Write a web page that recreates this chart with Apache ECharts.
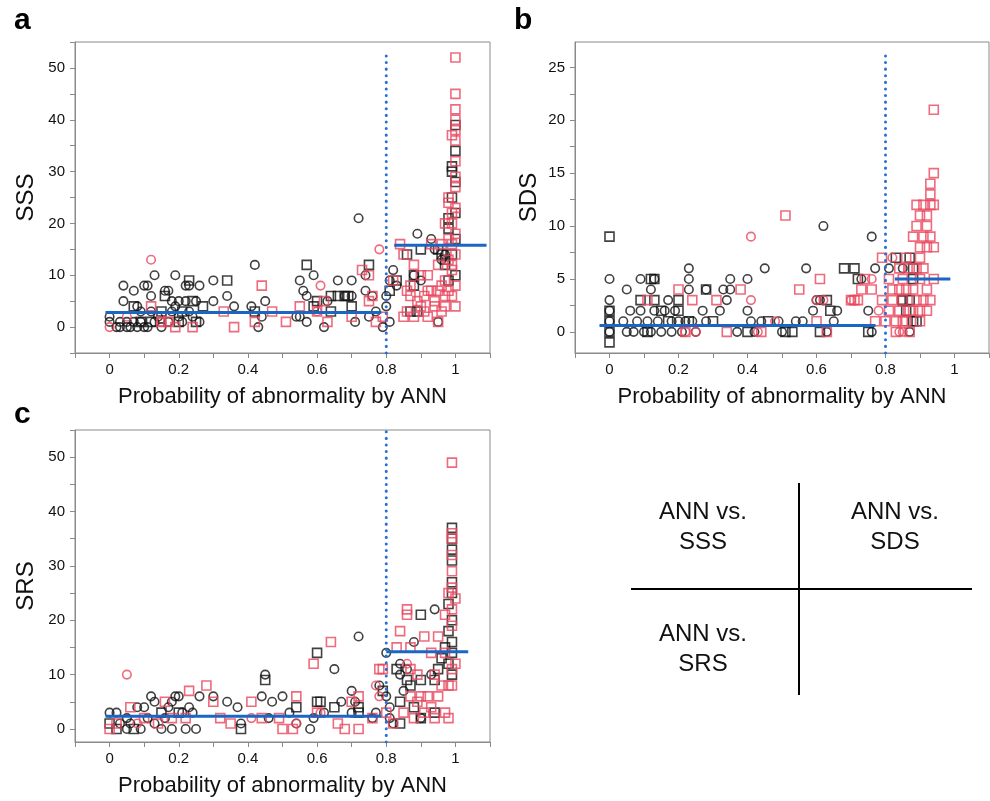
<!DOCTYPE html>
<html><head><meta charset="utf-8">
<script src="https://cdn.jsdelivr.net/npm/echarts@6/dist/echarts.min.js"></script>
<style>html,body{margin:0;padding:0;background:#fff}#c{width:990px;height:801px}</style>
</head><body><div id="c"></div>
<script>
// ---------- Data ----------
const xTicks = [-0.1,0,0.1,0.2,0.3,0.4,0.5,0.6,0.7,0.8,0.9,1,1.1];
const xLabels = [0,0.2,0.4,0.6,0.8,1];
const threshold = 0.8;

// Panel a: ANN vs SSS
const aYTicks = [-5,0,5,10,15,20,25,30,35,40,45,50,55];
const aYLabels = [0,10,20,30,40,50];
const aBlackCircle = [[0,2],[0,1],[0.02,0],[0.03,0],[0.03,1],[0.04,5],[0.04,8],[0.05,1],[0.05,0],[0.06,0],[0.07,7],[0.07,1],[0.08,4],[0.08,0],[0.09,1],[0.09,3],[0.1,0],[0.1,8],[0.11,8],[0.11,0],[0.12,6],[0.12,3],[0.13,10],[0.13,1],[0.14,2],[0.15,0],[0.16,7],[0.17,7],[0.17,1],[0.18,5],[0.18,3],[0.19,10],[0.19,4],[0.2,5],[0.2,2],[0.21,1],[0.22,8],[0.22,5],[0.23,8],[0.23,3],[0.24,2],[0.25,5],[0.26,8],[0.26,1],[0.3,9],[0.3,5],[0.34,6],[0.36,4],[0.41,4],[0.42,12],[0.43,0],[0.44,2],[0.45,5],[0.54,2],[0.55,2],[0.55,9],[0.56,7],[0.57,1],[0.57,6],[0.59,10],[0.62,0],[0.63,5],[0.66,9],[0.68,6],[0.7,9],[0.7,6],[0.71,1],[0.72,21],[0.74,10],[0.74,7],[0.75,2],[0.76,6],[0.77,3],[0.79,0],[0.8,6],[0.8,4],[0.81,9],[0.81,1],[0.82,11],[0.83,8],[0.88,10],[0.89,18],[0.9,9],[0.93,17],[0.94,15],[0.95,1],[0.96,13],[0.97,14]];
const aBlackSquare = [[0.07,4],[0.09,1],[0.12,1],[0.15,3],[0.16,6],[0.2,1],[0.21,3],[0.23,9],[0.24,5],[0.25,1],[0.27,4],[0.34,9],[0.42,3],[0.57,12],[0.6,5],[0.59,4],[0.64,6],[0.64,3],[0.66,6],[0.68,6],[0.69,6],[0.7,4],[0.75,12],[0.81,7],[0.83,9],[0.86,14],[0.88,10],[0.88,8],[0.87,3],[0.89,3],[0.9,15],[0.95,15],[0.96,14],[0.97,12],[0.98,19],[0.98,21],[0.99,30],[0.99,25],[1.0,34],[1.0,39],[1.0,28],[1.0,22],[1.0,17],[1.0,10],[0.99,31],[0.99,14],[0.98,9],[0.97,13]];
const aRedCircle = [[0,0],[0.12,13],[0.61,8],[0.6,3],[0.78,15],[0.05,2],[0.15,1]];
const aRedSquare = [[0.12,4],[0.15,1],[0.17,1],[0.19,0],[0.24,0],[0.33,3],[0.36,0],[0.42,1],[0.44,8],[0.47,3],[0.51,1],[0.55,4],[0.6,3],[0.62,5],[0.63,1],[0.7,2],[0.73,11],[0.75,10],[0.75,5],[0.76,6],[0.77,1],[0.79,2],[0.82,9],[0.84,16],[0.85,14],[0.85,2],[0.86,7],[0.86,3],[0.87,8],[0.87,6],[0.88,12],[0.88,2],[0.89,5],[0.9,10],[0.9,4],[0.91,6],[0.91,3],[0.92,7],[0.92,10],[0.92,2],[0.93,16],[0.93,7],[0.94,4],[0.94,5],[0.95,7],[0.95,12],[0.95,1],[0.96,16],[0.96,3],[0.96,8],[0.97,6],[0.97,20],[0.97,4],[0.98,24],[0.98,25],[0.98,17],[0.98,7],[0.99,22],[0.99,16],[0.99,6],[0.99,12],[0.99,20],[1.0,52],[1.0,45],[1.0,42],[1.0,40],[1.0,38],[1.0,36],[1.0,32],[1.0,29],[1.0,27],[1.0,23],[1.0,18],[1.0,14],[1.0,8],[1.0,4],[0.99,37],[0.99,11],[0.98,13],[0.97,9]];
const aMeanLow = [[-0.012,2.8],[0.786,2.8]];
const aMeanHigh = [[0.823,15.8],[1.09,15.8]];
const aRange = [-5,55];

// Panel b: ANN vs SDS
const bYTicks = [0,2.5,5,7.5,10,12.5,15,17.5,20,22.5,25];
const bYLabels = [0,5,10,15,20,25];
const bBlackCircle = [[0,5],[0,3],[0,2],[0,1],[0,0],[0.05,4],[0.04,1],[0.05,0],[0.06,2],[0.07,0],[0.08,1],[0.09,5],[0.09,2],[0.1,0],[0.11,1],[0.12,0],[0.12,4],[0.13,5],[0.13,2],[0.14,1],[0.15,0],[0.16,2],[0.17,3],[0.18,1],[0.18,0],[0.19,2],[0.2,1],[0.21,0],[0.22,1],[0.23,6],[0.23,5],[0.23,4],[0.24,1],[0.25,0],[0.27,2],[0.28,4],[0.28,1],[0.32,2],[0.33,4],[0.34,3],[0.35,4],[0.35,5],[0.37,0],[0.4,5],[0.4,2],[0.41,1],[0.42,0],[0.44,1],[0.45,6],[0.49,1],[0.5,0],[0.54,1],[0.56,1],[0.57,6],[0.59,2],[0.6,3],[0.61,3],[0.62,10],[0.63,0],[0.65,1],[0.66,2],[0.73,5],[0.75,2],[0.76,9],[0.76,0],[0.77,6],[0.81,6],[0.85,6],[0.87,0]];
const bBlackSquare = [[0,9],[0,-1],[0,2],[0,1],[0,0],[0.09,3],[0.11,0],[0.12,5],[0.13,5],[0.13,3],[0.15,2],[0.17,1],[0.2,3],[0.2,2],[0.23,1],[0.28,4],[0.3,1],[0.4,0],[0.46,1],[0.51,0],[0.53,0],[0.61,0],[0.63,3],[0.64,2],[0.68,6],[0.71,6],[0.72,5],[0.75,0],[0.83,7],[0.85,3],[0.86,2],[0.87,7],[0.88,1],[0.88,5],[0.88,6],[0.87,3],[0.85,3],[0.89,1]];
const bRedCircle = [[0.41,9],[0.41,3],[0.6,3],[0.62,3],[0.7,3],[0.76,5],[0.78,2],[0.82,7],[0.84,0],[0.85,0],[0.25,0],[0.22,0],[0.48,1],[0.43,0]];
const bRedSquare = [[0.2,4],[0.11,3],[0.24,3],[0.31,3],[0.38,4],[0.22,0],[0.34,0],[0.44,0],[0.51,11],[0.55,4],[0.6,1],[0.61,5],[0.63,0],[0.7,3],[0.71,3],[0.72,3],[0.73,4],[0.74,5],[0.76,4],[0.77,1],[0.79,7],[0.79,3],[0.8,1],[0.81,5],[0.81,2],[0.82,4],[0.82,3],[0.83,0],[0.83,1],[0.84,6],[0.84,4],[0.84,2],[0.85,5],[0.85,3],[0.86,7],[0.86,4],[0.86,1],[0.87,0],[0.87,6],[0.88,9],[0.88,4],[0.88,2],[0.89,12],[0.89,10],[0.89,3],[0.89,6],[0.9,11],[0.9,8],[0.9,7],[0.9,5],[0.9,1],[0.91,12],[0.91,9],[0.91,6],[0.91,3],[0.92,11],[0.92,10],[0.92,8],[0.92,4],[0.93,14],[0.93,12],[0.93,13],[0.93,9],[0.93,3],[0.94,15],[0.94,21],[0.94,12],[0.94,8],[0.94,5],[0.92,2],[0.9,2],[0.87,2],[0.85,1]];
const bMeanLow = [[-0.029,0.6],[0.771,0.6]];
const bMeanHigh = [[0.827,5.0],[0.988,5.0]];
const bRange = [-2,27.4];

// Panel c: ANN vs SRS
const cYTicks = [0,5,10,15,20,25,30,35,40,45,50,55];
const cYLabels = [0,10,20,30,40,50];
const cBlackCircle = [[0,3],[0.02,3],[0.03,1],[0.05,2],[0.05,0],[0.06,1],[0.08,4],[0.09,0],[0.1,4],[0.11,2],[0.12,6],[0.13,5],[0.13,1],[0.15,0],[0.16,2],[0.17,4],[0.18,5],[0.18,0],[0.19,6],[0.2,6],[0.21,3],[0.22,0],[0.23,4],[0.24,3],[0.25,0],[0.26,6],[0.3,6],[0.34,5],[0.37,4],[0.38,1],[0.44,6],[0.45,10],[0.46,2],[0.47,5],[0.5,6],[0.52,3],[0.54,1],[0.58,0],[0.59,2],[0.62,3],[0.65,11],[0.67,5],[0.7,7],[0.7,3],[0.71,5],[0.72,17],[0.76,2],[0.77,3],[0.78,8],[0.8,14],[0.8,6],[0.81,4],[0.81,2],[0.82,1],[0.84,12],[0.84,10],[0.85,7],[0.86,11],[0.88,16],[0.9,2],[0.94,22],[0.93,10]];
const cBlackSquare = [[0,1],[0.02,0],[0.07,0],[0.15,3],[0.2,3],[0.38,0],[0.45,9],[0.54,4],[0.6,14],[0.6,5],[0.61,5],[0.65,4],[0.72,4],[0.72,3],[0.79,7],[0.83,11],[0.84,5],[0.84,1],[0.86,9],[0.87,8],[0.88,4],[0.9,2],[0.9,9],[0.9,21],[0.94,9],[0.94,3],[0.95,11],[0.96,13],[0.97,15],[0.98,18],[0.98,23],[0.98,12],[0.99,37],[0.99,35],[0.99,33],[0.99,31],[0.99,27],[0.99,20],[0.99,16],[0.99,14],[0.99,10],[0.99,25]];
const cRedCircle = [[0.05,10],[0.41,2],[0.54,1],[0.61,3],[0.77,8],[0.78,6],[0.08,1],[0.86,12]];
const cRedSquare = [[0,0],[0.02,1],[0.06,4],[0.1,2],[0.14,1],[0.16,5],[0.18,2],[0.22,2],[0.23,7],[0.28,8],[0.3,5],[0.32,2],[0.35,1],[0.41,5],[0.44,2],[0.49,2],[0.5,0],[0.53,0],[0.54,6],[0.59,12],[0.6,3],[0.64,16],[0.66,1],[0.68,0],[0.7,5],[0.72,6],[0.72,0],[0.76,2],[0.78,11],[0.79,11],[0.8,3],[0.82,1],[0.83,15],[0.84,18],[0.85,3],[0.86,22],[0.86,21],[0.87,15],[0.87,11],[0.87,6],[0.88,2],[0.89,5],[0.89,10],[0.9,6],[0.91,17],[0.91,3],[0.92,6],[0.93,14],[0.93,4],[0.94,2],[0.94,10],[0.95,6],[0.95,17],[0.96,8],[0.97,21],[0.97,14],[0.97,3],[0.98,25],[0.98,2],[0.98,8],[0.99,49],[0.99,36],[0.99,35],[0.99,32],[0.99,29],[0.99,26],[0.99,22],[0.99,19],[0.99,11],[0.99,8],[1.0,24],[1.0,12]];
const cMeanLow = [[-0.012,2.33],[0.786,2.33]];
const cMeanHigh = [[0.80,14.2],[1.037,14.2]];
const cRange = [-2.4,55];

const panelLetters = ['a','b','c'];
const yNames = ['SSS','SDS','SRS'];
const xName = 'Probability of abnormality by ANN';
const tableTexts = ['ANN vs.\nSSS','ANN vs.\nSDS','ANN vs.\nSRS'];

// ---------- Build ----------
const FONT = '"Liberation Sans", Arial, Helvetica, sans-serif';
const BLACK = '#111111', RED = '#e8465c', BLUE = '#1a66c4', GRAY = '#8a8a8a';
const grids = [
  {left:75, top:42, width:415, height:311},
  {left:575, top:42, width:414, height:311},
  {left:75, top:430, width:415, height:312}
];
const panels = [
  {bc:aBlackCircle,bs:aBlackSquare,rc:aRedCircle,rs:aRedSquare,lo:aMeanLow,hi:aMeanHigh,range:aRange,yt:aYTicks,yl:aYLabels,gap:37,dotTop:53.3},
  {bc:bBlackCircle,bs:bBlackSquare,rc:bRedCircle,rs:bRedSquare,lo:bMeanLow,hi:bMeanHigh,range:bRange,yt:bYTicks,yl:bYLabels,gap:34,dotTop:26.7},
  {bc:cBlackCircle,bs:cBlackSquare,rc:cRedCircle,rs:cRedSquare,lo:cMeanLow,hi:cMeanHigh,range:cRange,yt:cYTicks,yl:cYLabels,gap:37,dotTop:55}
];
const xAxis = [], yAxis = [], series = [];
panels.forEach((p,i)=>{
  xAxis.push({type:'value', gridIndex:i, min:-0.1, max:1.1,
    name:xName, nameLocation:'middle', nameGap:33,
    nameTextStyle:{fontFamily:FONT, fontSize:22, color:'#111'},
    splitLine:{show:false},
    axisLine:{show:true, onZero:false, lineStyle:{color:GRAY}},
    axisTick:{show:true, length:5, lineStyle:{color:GRAY}, customValues:xTicks},
    axisLabel:{fontFamily:FONT, fontSize:15, color:'#111', margin:9, customValues:xLabels,
      formatter:v=>String(Math.round(v*10)/10)}
  });
  yAxis.push({type:'value', gridIndex:i, min:p.range[0], max:p.range[1],
    name:yNames[i], nameLocation:'middle', nameGap:p.gap,
    nameTextStyle:{fontFamily:FONT, fontSize:24, color:'#111'},
    splitLine:{show:false},
    axisLine:{show:true, onZero:false, lineStyle:{color:GRAY}},
    axisTick:{show:true, length:5, lineStyle:{color:GRAY}, customValues:p.yt},
    axisLabel:{fontFamily:FONT, fontSize:15, color:'#111', margin:10, customValues:p.yl}
  });
  const sc = (data, sym, col) => ({type:'scatter', xAxisIndex:i, yAxisIndex:i, data:data,
    symbol:sym, symbolSize:sym==='rect'?9:8.5,
    itemStyle:{color:'rgba(0,0,0,0)', borderColor:col, borderWidth:1.6}, silent:true});
  series.push(sc(p.bc,'circle',BLACK), sc(p.bs,'rect',BLACK), sc(p.rc,'circle',RED), sc(p.rs,'rect',RED));
  const ln = (data, style) => ({type:'line', xAxisIndex:i, yAxisIndex:i, data:data, symbol:'none',
    lineStyle:style, silent:true, z:5});
  series.push(ln(p.lo,{color:BLUE,width:3}), ln(p.hi,{color:BLUE,width:3}));
  series.push(ln([[threshold,p.range[0]],[threshold,p.dotTop]],{color:'#2a70d2',width:3,type:[0.1,6.5],cap:'round'}));
});

const graphic = [];
const letterPos = [[14,6],[514,6],[14,400]];
panelLetters.forEach((t,i)=>graphic.push({type:'text', left:letterPos[i][0], top:letterPos[i][1],
  style:{text:t, font:'bold 30px '+FONT, fill:'#000'}}));
// schematic table
graphic.push({type:'line', shape:{x1:799,y1:483,x2:799,y2:695}, style:{stroke:'#000',lineWidth:2}});
graphic.push({type:'line', shape:{x1:631,y1:589,x2:972,y2:589}, style:{stroke:'#000',lineWidth:2}});
const tpos = [[703,527],[895,527],[703,649]];
tableTexts.forEach((t,i)=>graphic.push({type:'text', x:tpos[i][0], y:tpos[i][1],
  style:{text:t, font:'24px '+FONT, fill:'#111', align:'center', verticalAlign:'middle', lineHeight:30}}));

const chart = echarts.init(document.getElementById('c'), null, {renderer:'canvas'});
chart.setOption({
  animation:false,
  backgroundColor:'#ffffff',
  grid: grids.map(g=>Object.assign({show:true, borderColor:GRAY, borderWidth:1, backgroundColor:'transparent'}, g)),
  xAxis, yAxis, series, graphic
});
</script></body></html>
